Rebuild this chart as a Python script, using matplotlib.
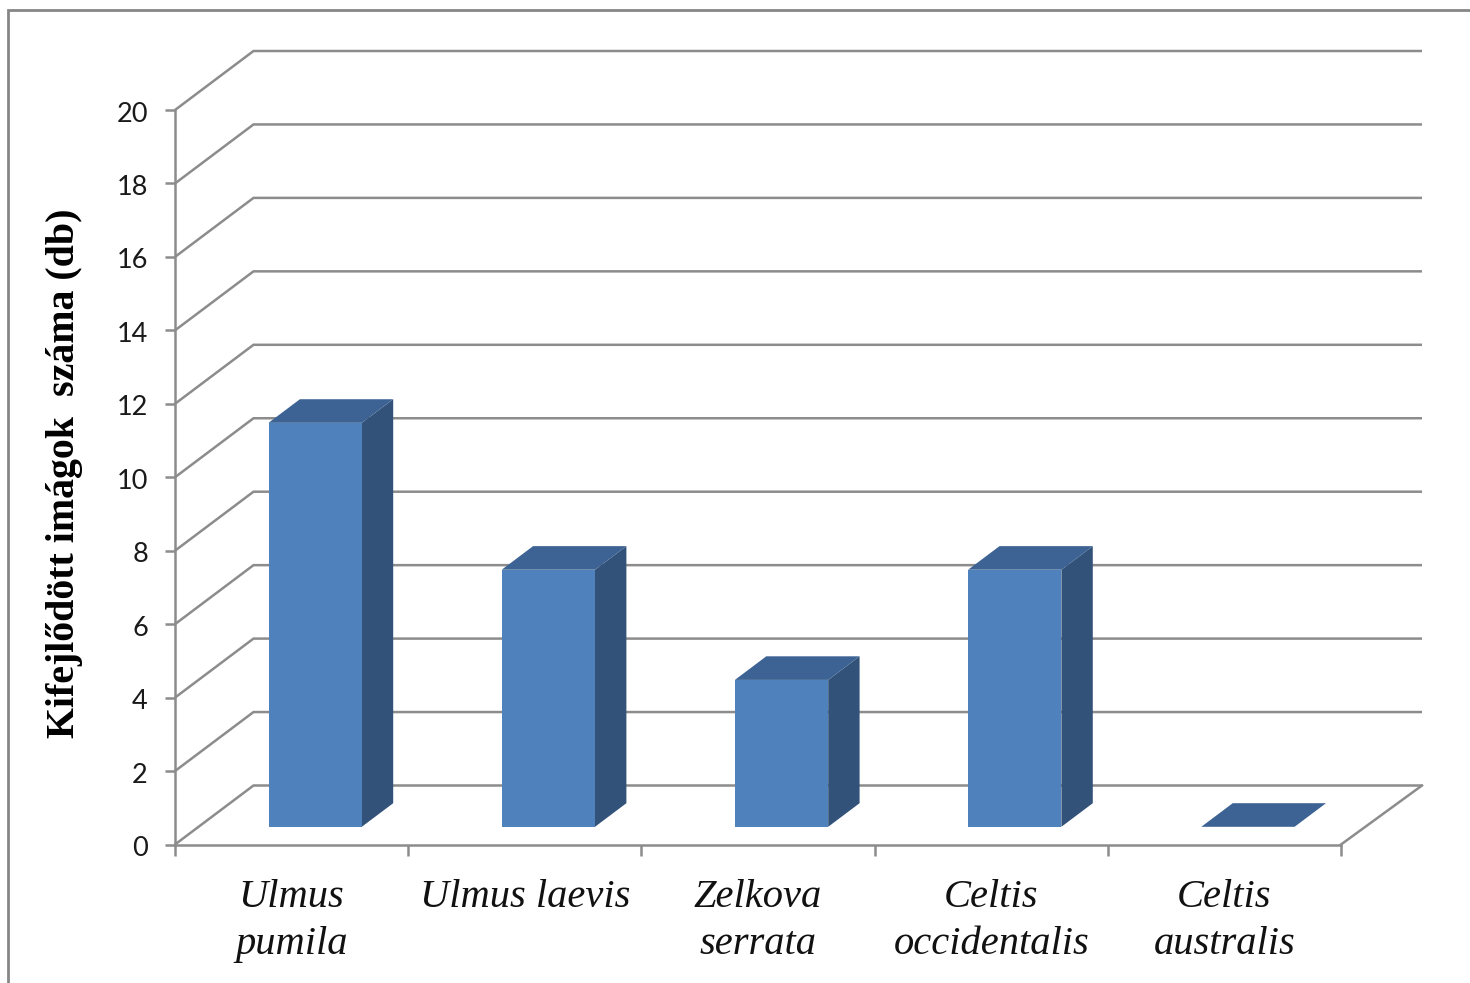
import matplotlib
matplotlib.use("Agg")
import matplotlib.pyplot as plt
from matplotlib.lines import Line2D
from matplotlib.transforms import ScaledTranslation

# Data
categories = ["Ulmus\npumila", "Ulmus laevis", "Zelkova\nserrata",
              "Celtis\noccidentalis", "Celtis\naustralis"]
values = [11, 7, 4, 7, 0]
y_ticks = list(range(0, 21, 2))
y_label = "Kifejlődött imágok  száma (db)"

# Colours
GRID = "#8c8c8c"
FRONT = "#4f81bd"
SIDE = "#32527a"
TOP = "#3c6393"

W, H = 1470, 983
fig = plt.figure(figsize=(W / 100, H / 100), dpi=100, facecolor="white")

# Plot area is the front plane of the pseudo-3D box
left, right, bottom, top = 175, 1341, 844.5, 110
ax = fig.add_axes([left / W, 1 - bottom / H, (right - left) / W, (bottom - top) / H])
ax.set_xlim(0, len(categories))
ax.set_ylim(0, 20)
ax.patch.set_visible(False)

# Oblique depth vector of the box, in data units
DEPTH_X = 78.5 / ((right - left) / len(categories))
DEPTH_Y = 59 / ((bottom - top) / 20)
# The back wall reaches slightly further right than the front plane
BACK_RIGHT = 81 / 78.5


def project(x, y, d):
    return x + d * DEPTH_X, y + d * DEPTH_Y


# Gridlines: side-wall diagonal, then back wall
n = len(categories)
LW = 1.8
for t in y_ticks:
    bx0, by0 = project(0, t, 1)
    bx1, _ = project(n, t, BACK_RIGHT)
    ax.plot([0, bx0, bx1], [t, by0, by0], color=GRID, lw=LW, clip_on=False,
            solid_joinstyle="miter", solid_capstyle="butt", zorder=1)

# Right edge of the floor
fx, _ = project(n, 0, BACK_RIGHT)
_, fy = project(n, 0, 1)
ax.plot([n, fx], [0, fy], color=GRID, lw=LW, clip_on=False, zorder=1)

# 3D columns
BAR_W = 0.4
D0, D1 = 0.3, 0.70
for i, v in enumerate(values):
    xl, xr = i + 0.5 - BAR_W / 2, i + 0.5 + BAR_W / 2
    corners_front = [project(xl, 0, D0), project(xr, 0, D0),
                     project(xr, v, D0), project(xl, v, D0)]
    corners_side = [project(xr, 0, D0), project(xr, 0, D1),
                    project(xr, v, D1), project(xr, v, D0)]
    corners_top = [project(xl, v, D0), project(xr, v, D0),
                   project(xr, v, D1), project(xl, v, D1)]
    for poly, col in ((corners_side, SIDE), (corners_top, TOP), (corners_front, FRONT)):
        xs, ys = zip(*poly)
        ax.fill(xs, ys, facecolor=col, edgecolor="none", clip_on=False, zorder=3)

# Axes lines and ticks
for s in ("top", "right"):
    ax.spines[s].set_visible(False)
for s in ("left", "bottom"):
    ax.spines[s].set_color(GRID)
    ax.spines[s].set_linewidth(LW)
    ax.spines[s].set_zorder(2)

ax.set_yticks(y_ticks)
ax.set_yticklabels([str(t) for t in y_ticks], family="Lato", fontsize=19.5, color="#1a1a1a")
ax.tick_params(axis="y", length=7.5, width=LW, color=GRID, pad=12)
for lab in ax.get_yticklabels():
    lab.set_transform(lab.get_transform() + ScaledTranslation(0, -1.5 / 100, fig.dpi_scale_trans))

ax.set_xticks(range(n + 1))
ax.set_xticklabels([])
ax.tick_params(axis="x", which="major", length=8, width=LW, color=GRID)
ax.set_xticks([i + 0.5 for i in range(n)], minor=True)
ax.set_xticklabels(categories, minor=True, family="Liberation Serif", style="italic",
                   fontsize=29.2, color="#111111", linespacing=1.36)
ax.tick_params(axis="x", which="minor", length=0, pad=24.5)

fig.text(65 / W, 1 - 473 / H, y_label, rotation=90, ha="center", va="center",
         family="Liberation Serif", weight="bold", fontsize=28.7, color="black")

# Outer chart frame, running off the right and bottom of the canvas
frame_x = 8 / W
frame_y = 1 - 9.5 / H
fig.add_artist(Line2D([frame_x, frame_x, 1], [0, frame_y, frame_y], color="#868686", lw=2,
                      solid_joinstyle="miter"))

fig.savefig("out.png", dpi=100)
